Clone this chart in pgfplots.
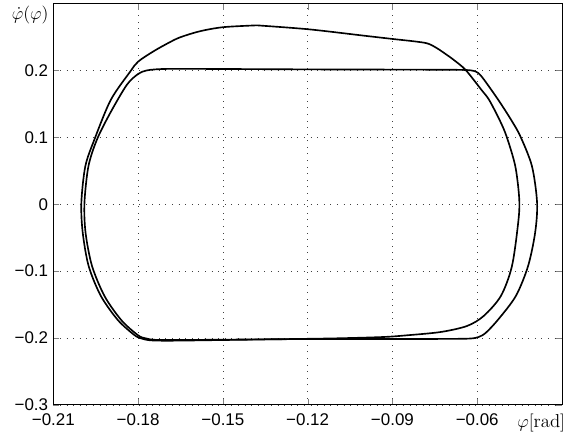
\documentclass[border=0pt]{standalone}
\usepackage{fontspec}
\setsansfont{Liberation Sans}
\usepackage{pgfplots}
\pgfplotsset{compat=1.18}

% limit cycle (inner rectangle-like loop)
\pgfplotstableread{
x y
-0.1200 0.2018
-0.1000 0.2016
-0.0800 0.2014
-0.0680 0.2012
-0.0635 0.2008
-0.0612 0.1995
-0.0595 0.1960
-0.0575 0.1860
-0.0525 0.1560
-0.0480 0.1264
-0.0447 0.1015
-0.0406 0.0567
-0.0388 0.0020
-0.0395 -0.0427
-0.0420 -0.0925
-0.0463 -0.1370
-0.0525 -0.1720
-0.0569 -0.1920
-0.0595 -0.1985
-0.0625 -0.2008
-0.0700 -0.2013
-0.0900 -0.2015
-0.1100 -0.2015
-0.1300 -0.2018
-0.1500 -0.2025
-0.1680 -0.2030
-0.1745 -0.2026
-0.1775 -0.2003
-0.1800 -0.1960
-0.1858 -0.1740
-0.1918 -0.1380
-0.1963 -0.0925
-0.1986 -0.0427
-0.1990 0.0020
-0.1976 0.0567
-0.1946 0.0966
-0.1899 0.1364
-0.1840 0.1787
-0.1800 0.1950
-0.1772 0.2000
-0.1740 0.2018
-0.1680 0.2026
-0.1500 0.2024
-0.1300 0.2020
-0.1200 0.2018
}\cycleA

% outer orbit
\pgfplotstableread{
x y
-0.1380 0.2677
-0.1197 0.2618
-0.1000 0.2522
-0.0899 0.2473
-0.0820 0.2436
-0.0775 0.2405
-0.0742 0.2334
-0.0707 0.2234
-0.0683 0.2160
-0.0641 0.2010
-0.0585 0.1712
-0.0558 0.1563
-0.0521 0.1264
-0.0496 0.1015
-0.0465 0.0567
-0.0451 0.0070
-0.0455 -0.0278
-0.0477 -0.0925
-0.0516 -0.1370
-0.0577 -0.1670
-0.0636 -0.1820
-0.0729 -0.1910
-0.0850 -0.1960
-0.0933 -0.1985
-0.1100 -0.2005
-0.1300 -0.2018
-0.1500 -0.2030
-0.1680 -0.2040
-0.1755 -0.2035
-0.1790 -0.2005
-0.1815 -0.1950
-0.1872 -0.1730
-0.1932 -0.1370
-0.1975 -0.0925
-0.1996 -0.0427
-0.2001 0.0020
-0.1987 0.0567
-0.1955 0.0966
-0.1897 0.1560
-0.1828 0.1985
-0.1800 0.2134
-0.1745 0.2290
-0.1690 0.2420
-0.1650 0.2500
-0.1580 0.2590
-0.1498 0.2650
-0.1380 0.2677
}\orbitB

\begin{document}
\begin{tikzpicture}
\begin{axis}[
  scale only axis,
  width=339.3pt, height=267.6pt,
  xmin=-0.21, xmax=-0.03,
  ymin=-0.3, ymax=0.3,
  xtick={-0.21,-0.18,-0.15,-0.12,-0.09,-0.06},
  xticklabels={−0.21,−0.18,−0.15,−0.12,−0.09,−0.06},
  ytick={-0.3,-0.2,-0.1,0,0.1,0.2},
  yticklabels={−0.3,−0.2,−0.1,0,0.1,0.2},
  ticklabel style={font=\sffamily\fontsize{11.3}{13}\selectfont},
  xticklabel style={yshift=-2.5pt},
  tick align=inside,
  major tick length=4pt,
  grid=major,
  grid style={black!75, line width=0.45pt, dash pattern=on 0.5pt off 3.9pt},
  axis line style={line width=0.5pt},
  clip=false,
]
\addplot[black, line width=1.1pt, smooth, tension=0.5] table {\cycleA};
\addplot[black, line width=1.1pt, smooth, tension=0.5] table {\orbitB};
\node[anchor=north east, inner sep=0pt, font=\fontsize{12.5}{14}\selectfont]
  at ([xshift=-3pt,yshift=-1.5pt]rel axis cs:0,1) {$\dot{\varphi}(\varphi)$};
\node[anchor=north east, inner sep=0pt, font=\fontsize{12.5}{14}\selectfont]
  at ([xshift=2.3pt,yshift=-6.2pt]rel axis cs:1,0) {$\varphi[\mathrm{rad}]$};
\end{axis}
\pgfresetboundingbox
\path (current axis.south west) ++(-35.6pt,-19.3pt) coordinate (bbA);
\path (current axis.north east) ++(2.7pt,2.5pt) coordinate (bbB);
\path[use as bounding box] (bbA) rectangle (bbB);
\end{tikzpicture}
\end{document}
